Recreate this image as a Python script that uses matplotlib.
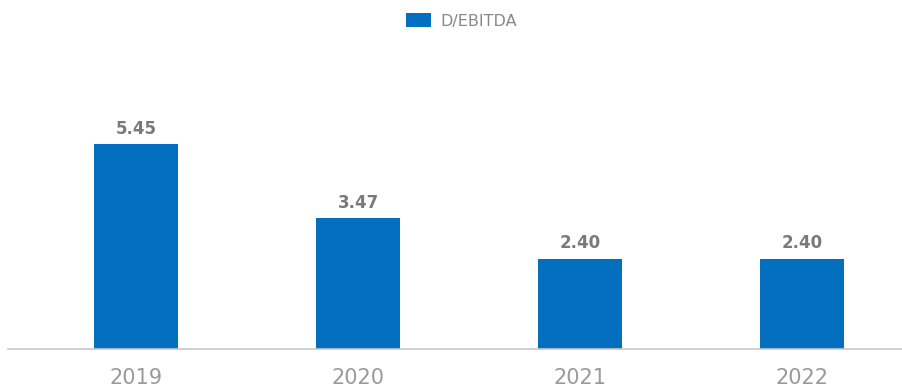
import matplotlib
matplotlib.use("Agg")
import matplotlib.pyplot as plt
from matplotlib.patches import Patch

plt.rcParams["font.family"] = ["DejaVu Sans"]

years = ["2019", "2020", "2021", "2022"]
debt_ebitda = [5.45, 3.47, 2.40, 2.40]
series_name = "D/EBITDA"

bar_color = "#056fbf"
label_gray = "#7a7a7a"
tick_gray = "#9a9a9a"

fig = plt.figure(figsize=(9.03, 3.91), dpi=100)
W, H = 903, 391
ax = fig.add_axes([8 / W, (H - 349) / H, (W - 8) / W, 300 / H])

x = list(range(len(years)))
bars = ax.bar(x, debt_ebitda, width=0.378, color=bar_color, zorder=2)

for rect, v in zip(bars, debt_ebitda):
    ax.annotate(f"{v:.2f}", (rect.get_x() + rect.get_width() / 2, v),
                xytext=(0, 4.5), textcoords="offset points",
                ha="center", va="bottom", fontsize=12, fontweight="bold",
                color=label_gray)

ax.set_xlim(-0.577, 3.455)
ax.set_ylim(0, 7.97)
ax.set_xticks(x)
ax.set_xticklabels(years, fontsize=15, color=tick_gray)
ax.tick_params(axis="x", length=0, pad=14)
ax.set_yticks([])
for side in ("top", "right", "left"):
    ax.spines[side].set_visible(False)
ax.spines["bottom"].set_color("#c8c8c8")
ax.spines["bottom"].set_linewidth(1.2)

handle = Patch(facecolor=bar_color, edgecolor="none")
leg = fig.legend([handle], [series_name], loc="center",
                 bbox_to_anchor=(461.5 / W, 1 - 21 / H), frameon=False,
                 fontsize=11.5, handlelength=1.55, handleheight=1.0,
                 handletextpad=0.55, borderpad=0)
for t in leg.get_texts():
    t.set_color("#888888")

fig.savefig("out.png", dpi=100)
